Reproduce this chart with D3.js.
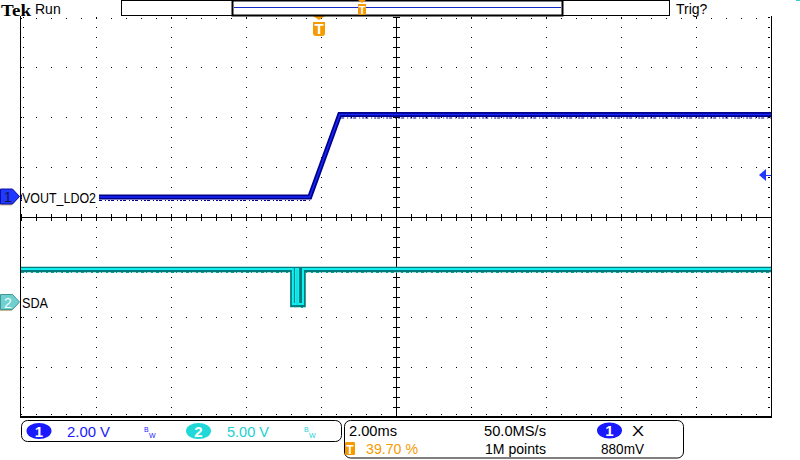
<!DOCTYPE html>
<html><head><meta charset="utf-8">
<script src="https://cdn.jsdelivr.net/npm/d3@7"></script>
<style>body{margin:0;background:#fff}svg{display:block;font-family:"Liberation Sans",Arial,sans-serif}</style>
</head><body><svg id="c" width="800" height="460"></svg>
<script>
// ---- data ----
const ch1Times = [-7.94, -0.24, 0.56, 12.06];          // ms
const ch1Volts = [0, 0, 3.3, 3.3];                        // V
const ch2Times = [-7.94, -0.69, -0.69, -0.61, -0.61, -0.55, -0.55, -0.42, -0.42, 12.06];
const ch2Volts = [3.3, 3.3, -0.2, -0.2, 3.3, 3.3, -0.2, -0.2, 3.3, 3.3];
const ch1Label = "VOUT_LDO2", ch2Label = "SDA";
const ch1Scale = "2.00 V", ch2Scale = "5.00 V";
const timeDiv = "2.00ms", sampleRate = "50.0MS/s", trigPos = "39.70 %", recLen = "1M points", trigLevel = "880mV";
const timeDomain = [-7.94, 12.06];
const ch1Domain = [-8.8, 7.2];
const ch2Domain = [-11.5, 28.5];
const trigLevelV = 0.88;

const svg = d3.select("#c");
const L = 21, R = 771, T = 17, B = 417;
const x = d3.scaleLinear().domain(timeDomain).range([L, R]);
const y1 = d3.scaleLinear().domain(ch1Domain).range([B, T]);
const y2 = d3.scaleLinear().domain(ch2Domain).range([B, T]);

// ---- graticule ----
const g = svg.append("g");
const divX = d3.range(11).map(i => L + i * 75);
const divY = d3.range(9).map(i => T + i * 50);
const minX = d3.range(51).map(i => L + i * 15);
const minY = d3.range(41).map(i => T + i * 10);
const dots = [];
divX.slice(1, 10).forEach((gx, i) => { if (i !== 4) minY.forEach(my => dots.push([gx, my])); });
divY.slice(1, 8).forEach((gy, i) => { if (i !== 3) minX.forEach(mx => dots.push([mx, gy])); });
minX.forEach(mx => { dots.push([mx, T + 1]); dots.push([mx, B - 3]); });
minY.forEach(my => { dots.push([L + 2, my]); dots.push([R - 3, my]); dots.push([R - 2, my]); });
g.selectAll("rect.d").data(dots).join("rect").attr("class", "d")
  .attr("x", d => Math.round(d[0])).attr("y", d => Math.round(d[1])).attr("width", 1).attr("height", 1).attr("fill", "#000");
const cx = L + 375, cy = T + 200;
g.append("line").attr("x1", L).attr("x2", R).attr("y1", cy + 0.5).attr("y2", cy + 0.5).attr("stroke", "#000");
g.append("line").attr("x1", cx + 0.5).attr("x2", cx + 0.5).attr("y1", T).attr("y2", B).attr("stroke", "#000");
g.selectAll("line.tx").data(minX).join("line").attr("class", "tx")
  .attr("x1", d => d + 0.5).attr("x2", d => d + 0.5).attr("y1", cy - 3).attr("y2", cy + 4).attr("stroke", "#000");
g.selectAll("line.ty").data(minY).join("line").attr("class", "ty")
  .attr("y1", d => d + 0.5).attr("y2", d => d + 0.5).attr("x1", cx - 3).attr("x2", cx + 4).attr("stroke", "#000");
g.append("line").attr("x1", L - 0.5).attr("x2", L - 0.5).attr("y1", T - 1).attr("y2", B + 1).attr("stroke", "#000");
g.append("line").attr("x1", R + 0.5).attr("x2", R + 0.5).attr("y1", T - 1).attr("y2", B + 1).attr("stroke", "#000");
g.append("line").attr("x1", L - 1).attr("x2", R + 1).attr("y1", B).attr("y2", B).attr("stroke", "#000").attr("stroke-width", 2);

// ---- traces ----
const line1 = d3.line().x((d, i) => x(ch1Times[i])).y(d => y1(d));
const line2 = d3.line().x((d, i) => x(ch2Times[i])).y(d => y2(d));
const tg = svg.append("g");
tg.append("path").attr("d", line2(ch2Volts)).attr("fill", "none").attr("stroke", "#007a7a").attr("stroke-width", 5.5).attr("transform", "translate(0,0.5)");
tg.append("path").attr("d", line2(ch2Volts)).attr("fill", "none").attr("stroke", "#00a0a0").attr("stroke-width", 1).attr("stroke-dasharray", "3 2 1 4 2 3").attr("transform", "translate(0,3.5)");
tg.append("path").attr("d", line2(ch2Volts)).attr("fill", "none").attr("stroke", "#10f0f0").attr("stroke-width", 2);
tg.append("path").attr("d", line1(ch1Volts)).attr("fill", "none").attr("stroke", "#00008a").attr("stroke-width", 5);
tg.append("path").attr("d", line1(ch1Volts)).attr("fill", "none").attr("stroke", "#00008a").attr("stroke-width", 1).attr("stroke-dasharray", "1 2 2 1 3 3").attr("transform", "translate(0,3.5)");
tg.append("path").attr("d", line1(ch1Volts)).attr("fill", "none").attr("stroke", "#1428ff").attr("stroke-width", 1.5);

// ---- channel labels ----
function chLabel(txt, yy, tlen) {
  svg.append("rect").attr("x", L + 1).attr("y", yy - 8).attr("width", tlen + 3).attr("height", 15).attr("fill", "#fff");
  svg.append("text").attr("x", L + 1).attr("y", yy + 6).attr("font-size", 14).attr("fill", "#000")
    .attr("textLength", tlen).attr("lengthAdjust", "spacingAndGlyphs").text(txt);
}
chLabel(ch1Label, y1(0), 74);
chLabel(ch2Label, y2(0), 26);
function badge(yy, fill, stroke, num, tcol) {
  const p = `M0.5,${yy - 7.5} L12.5,${yy - 7.5} L19.5,${yy} L12.5,${yy + 7.5} L0.5,${yy + 7.5} Z`;
  svg.append("path").attr("d", p).attr("fill", "#c8b890").attr("transform", "translate(-1,1.5)");
  svg.append("path").attr("d", p).attr("fill", fill).attr("stroke", stroke);
  svg.append("text").attr("x", 8).attr("y", yy + 5.5).attr("text-anchor", "middle").attr("font-size", 14).attr("fill", tcol).text(num);
}
badge(Math.round(y1(0)) - 0.5, "#2038ff", "#0a10a0", "1", "#14143c");
badge(Math.round(y2(0)), "#70d0d0", "#409898", "2", "#f0ffff");

// trigger level arrow (right)
const ty = Math.round(y1(trigLevelV));
svg.append("path").attr("d", `M759,${ty} L766,${ty - 6} L766,${ty + 6} Z`).attr("fill", "#2038ff");
svg.append("line").attr("x1", 765).attr("x2", 771).attr("y1", ty + 0.5).attr("y2", ty + 0.5).attr("stroke", "#2038ff");

// trigger position marker (top)
const tx = Math.round(x(0));
function tMarker(cxm, top, w, h) {
  svg.append("path").attr("d", `M${cxm - w / 2},${top} L${cxm + w / 2},${top} L${cxm},${top + 4} Z`).attr("fill", "#f59a00");
  svg.append("path").attr("d", `M${cxm - w / 2},${top + 6} h${w} v${h - 3} q0,3 -3,3 h${-(w - 6)} q-3,0 -3,-3 Z`).attr("fill", "#f59a00");
  svg.append("text").attr("x", cxm).attr("y", top + 6 + h - 2).attr("text-anchor", "middle").attr("font-size", h + 1).attr("font-weight", "bold").attr("fill", "#fff").text("T");
}
tMarker(tx, T - 1, 12, 14);

// ---- header ----
svg.append("text").attr("x", 1).attr("y", 16).attr("font-family", "Liberation Serif,serif").attr("font-weight", "bold").attr("font-size", 17).attr("fill", "#000").attr("textLength", 30).attr("lengthAdjust", "spacingAndGlyphs").text("Tek");
svg.append("text").attr("x", 35).attr("y", 14).attr("font-size", 14).attr("fill", "#000").text("Run");
svg.append("rect").attr("x", 121.5).attr("y", 0.5).attr("width", 548).attr("height", 15).attr("fill", "#fff").attr("stroke", "#000");
svg.append("rect").attr("x", 232.5).attr("y", 0.5).attr("width", 330).attr("height", 15).attr("fill", "none").attr("stroke", "#000").attr("stroke-width", 2);
svg.append("line").attr("x1", 234).attr("x2", 561).attr("y1", 7.5).attr("y2", 7.5).attr("stroke", "#1428c8");
const bx = 362;
svg.append("path").attr("d", `M${bx - 4},0 L${bx + 4},0 L${bx},3 Z`).attr("fill", "#f59a00");
svg.append("path").attr("d", `M${bx - 4},4 h8 v9 q0,2 -2,2 h-4 q-2,0 -2,-2 Z`).attr("fill", "#f59a00");
svg.append("text").attr("x", bx).attr("y", 14).attr("text-anchor", "middle").attr("font-size", 11).attr("font-weight", "bold").attr("fill", "#fff").text("T");
svg.append("text").attr("x", 676).attr("y", 14).attr("font-size", 14).attr("fill", "#000").text("Trig?");
svg.append("rect").attr("x", 796).attr("y", 0).attr("width", 4).attr("height", 1).attr("fill", "#30d0d0");

// ---- bottom readouts ----
svg.append("rect").attr("x", 21.5).attr("y", 420.5).attr("width", 320).attr("height", 21).attr("rx", 6).attr("fill", "#fff").attr("stroke", "#000");
svg.append("rect").attr("x", 344.5).attr("y", 420.5).attr("width", 339).attr("height", 37.5).attr("rx", 6).attr("fill", "#fff").attr("stroke", "#000");
function oval(cxo, cyo, fill, num) {
  svg.append("ellipse").attr("cx", cxo).attr("cy", cyo).attr("rx", 12.5).attr("ry", 8).attr("fill", fill);
  svg.append("text").attr("x", cxo).attr("y", cyo + 5.5).attr("text-anchor", "middle").attr("font-size", 15).attr("font-weight", "bold").attr("fill", "#fff").text(num);
}
oval(39, 431, "#1a1aff", "1");
svg.append("text").attr("x", 67).attr("y", 437).attr("font-size", 14).attr("fill", "#1a1aff").attr("textLength", 43).attr("lengthAdjust", "spacingAndGlyphs").text(ch1Scale);
function bw(xx, col) {
  svg.append("text").attr("x", xx).attr("y", 432).attr("font-size", 7).attr("fill", col).text("B");
  svg.append("text").attr("x", xx + 5).attr("y", 438).attr("font-size", 7).attr("fill", col).text("W");
}
bw(144, "#1a1aff");
oval(198.5, 431, "#20d8d8", "2");
svg.append("text").attr("x", 227).attr("y", 437).attr("font-size", 14).attr("fill", "#20d0d0").attr("textLength", 42).attr("lengthAdjust", "spacingAndGlyphs").text(ch2Scale);
bw(304, "#20d0d0");

svg.append("text").attr("x", 349).attr("y", 436).attr("font-size", 14).attr("fill", "#000").attr("textLength", 48).attr("lengthAdjust", "spacingAndGlyphs").text(timeDiv);
svg.append("rect").attr("x", 345).attr("y", 442).attr("width", 10).attr("height", 13).attr("rx", 1).attr("fill", "#f59a00");
svg.append("text").attr("x", 350).attr("y", 454).attr("text-anchor", "middle").attr("font-size", 12).attr("font-weight", "bold").attr("fill", "#fff").text("T");
svg.append("text").attr("x", 366).attr("y", 454).attr("font-size", 14).attr("fill", "#f59a00").attr("textLength", 52).attr("lengthAdjust", "spacingAndGlyphs").text(trigPos);
svg.append("text").attr("x", 484).attr("y", 436).attr("font-size", 14).attr("fill", "#000").attr("textLength", 62).attr("lengthAdjust", "spacingAndGlyphs").text(sampleRate);
svg.append("text").attr("x", 485).attr("y", 454).attr("font-size", 14).attr("fill", "#000").attr("textLength", 61).attr("lengthAdjust", "spacingAndGlyphs").text(recLen);
oval(609.5, 430.5, "#1a1aff", "1");
svg.append("text").attr("x", 632).attr("y", 436).attr("font-size", 15).attr("fill", "#000").attr("textLength", 12).attr("lengthAdjust", "spacingAndGlyphs").text("X");
svg.append("text").attr("x", 601).attr("y", 454).attr("font-size", 14).attr("fill", "#000").attr("textLength", 43).attr("lengthAdjust", "spacingAndGlyphs").text(trigLevel);
</script></body></html>
